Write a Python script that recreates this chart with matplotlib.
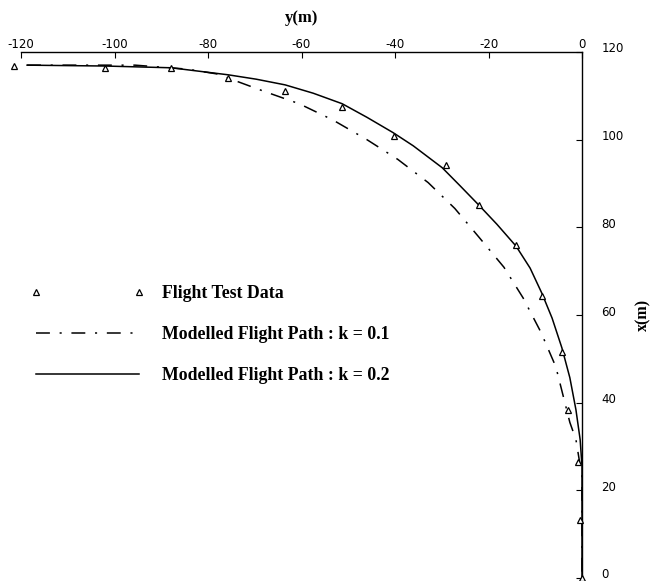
import matplotlib
matplotlib.use("Agg")
import matplotlib.pyplot as plt
from matplotlib.transforms import ScaledTranslation

plt.rcParams['lines.scale_dashes'] = False

# Flight test data (y in m, x in m)
test_y = [-121.5, -102.0, -87.9, -75.7, -63.5, -51.3, -40.2, -29.1, -22.0,
          -14.1, -8.6, -4.3, -3.0, -0.9, -0.4, 0.0]
test_x = [116.8, 116.4, 116.4, 114.1, 111.1, 107.5, 100.9, 94.3, 85.0,
          75.9, 64.3, 51.6, 38.4, 26.4, 13.2, 0.0]

# Modelled flight path k = 0.1
k01_y = [-118.7, -95.6, -84.5, -78.1, -68.2, -60.5, -53.3, -46.0, -39.4, -32.9,
         -27.2, -22.0, -16.7, -12.6, -8.8, -5.6, -2.6, -1.3, -0.6, 0.0, 0.0]
k01_x = [117.0, 117.0, 116.1, 115.0, 111.1, 108.2, 104.5, 100.0, 95.5, 90.2,
         84.3, 77.7, 70.9, 63.9, 56.1, 48.2, 35.5, 31.6, 27.0, 23.6, 0.0]

# Modelled flight path k = 0.2
k02_y = [-118.7, -102.0, -87.9, -75.7, -69.7, -63.5, -57.5, -51.3, -46.0, -40.4,
         -36.1, -29.9, -26.1, -22.0, -18.2, -14.1, -11.1, -8.6, -6.4, -4.3, -2.6,
         -1.3, -0.4, 0.0, 0.0]
k02_x = [117.0, 116.8, 116.4, 114.8, 113.8, 112.5, 110.6, 108.2, 105.1, 101.6,
         98.6, 93.6, 89.5, 85.0, 80.7, 75.7, 70.7, 65.0, 59.3, 52.5, 45.7,
         38.4, 31.6, 25.5, 0.0]

xticks = [-120, -100, -80, -60, -40, -20, 0]
yticks = [0, 20, 40, 60, 80, 100, 120]

fig = plt.figure(figsize=(6.5, 5.81), dpi=100)
ax = fig.add_axes([21/650, 1 - 578/581, (582 - 21)/650, (578 - 52)/581])

ax.plot(test_y, test_x, linestyle='none', marker='^', markersize=5,
        mfc='white', mec='black', mew=0.9, clip_on=False, zorder=3,
        label='Flight Test Data')
ax.plot(k01_y, k01_x, color='black', lw=1.1, linestyle=(0, (10, 7, 1.5, 7)),
        clip_on=False, label='Modelled Flight Path : k = 0.1')
ax.plot(k02_y, k02_x, color='black', lw=1.1, linestyle='-',
        clip_on=False, label='Modelled Flight Path : k = 0.2')

ax.set_xlim(-120, 0)
ax.set_ylim(0, 120)

ax.spines['left'].set_visible(False)
ax.spines['bottom'].set_visible(False)
ax.spines['top'].set_linewidth(1.0)
ax.spines['right'].set_linewidth(1.0)

ax.xaxis.tick_top()
ax.xaxis.set_label_position('top')
ax.yaxis.tick_right()
ax.yaxis.set_label_position('right')
ax.set_xticks(xticks)
ax.set_yticks(yticks)
ax.set_xticklabels([str(t) for t in xticks])
ax.set_yticklabels([str(t) for t in yticks])
ax.tick_params(axis='x', direction='in', length=4, pad=1, labelsize=8.5)
ax.tick_params(axis='y', direction='in', length=4, pad=14, labelsize=8.5)

shift = ScaledTranslation(0, 4.5/100, fig.dpi_scale_trans)
for lab in ax.get_yticklabels():
    lab.set_transform(lab.get_transform() + shift)

ax.set_xlabel('y(m)', fontfamily='Liberation Serif', fontweight='bold',
              fontsize=12, labelpad=11)
ax.set_ylabel('x(m)', fontfamily='Liberation Serif', fontweight='bold',
              fontsize=11.5, labelpad=8)

leg = ax.legend(loc='upper left', bbox_to_anchor=(31/650, 1 - 285/581),
                bbox_transform=fig.transFigure, frameon=False, numpoints=2,
                handlelength=6.4, handletextpad=0.95, labelspacing=1.35,
                borderpad=0, borderaxespad=0,
                prop={'family': 'Liberation Serif', 'weight': 'bold', 'size': 12.8})

fig.savefig('out.png', dpi=100)
